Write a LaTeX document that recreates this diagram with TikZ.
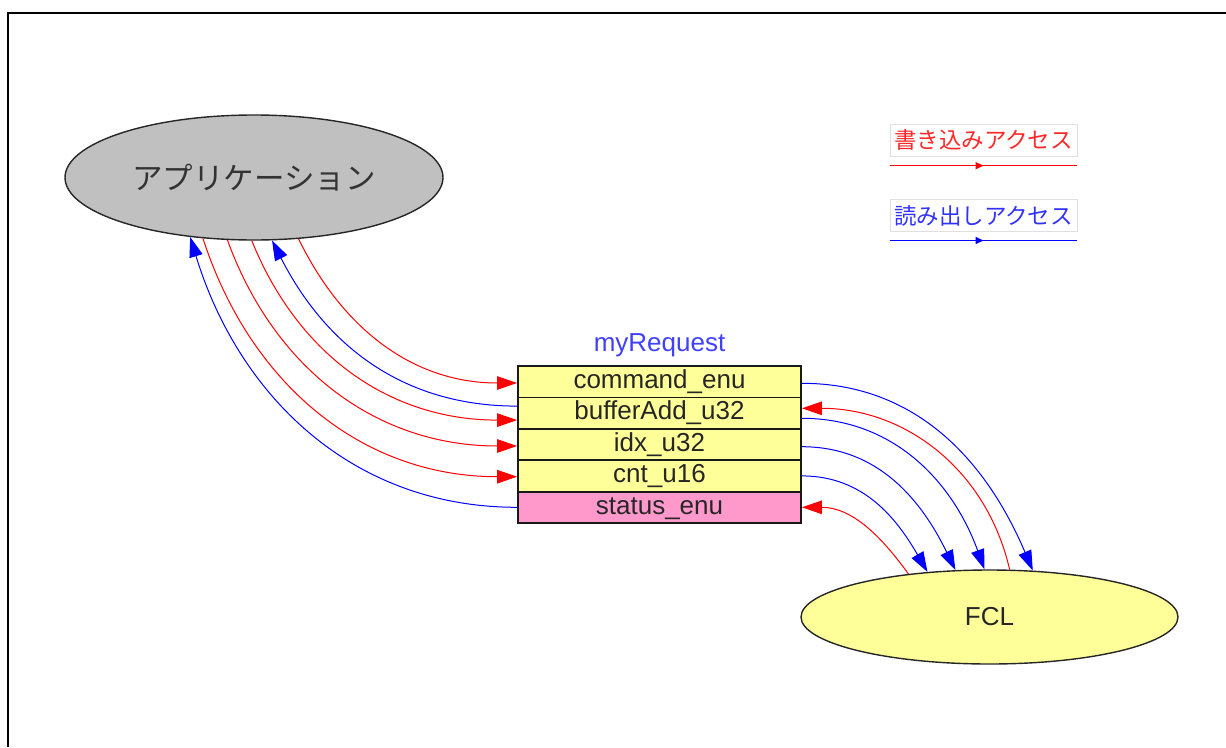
\documentclass[tikz,border=0pt]{standalone}
\usepackage{fontspec}
\setmainfont{Liberation Sans}
\newfontfamily\cjk{Noto Sans CJK JP}
\usetikzlibrary{shapes.geometric,arrows.meta,decorations.markings}
\newcommand\myfs[1]{\fontsize{#1}{#1}\selectfont}
\definecolor{appgray}{RGB}{192,192,192}
\definecolor{fieldyellow}{RGB}{255,255,153}
\definecolor{fieldpink}{RGB}{255,153,204}
\definecolor{txtred}{RGB}{255,40,40}
\definecolor{txtblue}{RGB}{50,50,255}
\definecolor{reqblue}{RGB}{64,64,255}
\begin{document}
\begin{tikzpicture}[x=1pt,y=1pt,
  oval/.style={ellipse, draw=black!85, line width=1.4pt, inner sep=0pt},
  fieldbox/.style={rectangle, draw=black!90, line width=1.8pt, minimum width=283pt,
    minimum height=31.4pt, inner sep=0pt, text height=19pt, text depth=5.5pt,
    font=\myfs{26}, text=black!85, fill=fieldyellow},
  wr/.style={draw=red, line width=1pt, -{Triangle[length=20pt,width=13.5pt]}},
  rd/.style={draw=blue, line width=1pt, -{Triangle[length=20pt,width=13.5pt]}},
  legbox/.style={draw=black!12, line width=1pt, minimum width=187pt, minimum height=32pt,
    inner sep=0pt, font=\cjk\myfs{22.5}},
  legline/.style={line width=1.5pt, postaction={decorate},
    decoration={markings, mark=at position 0.5 with {\arrow{Triangle[length=8pt,width=7pt]}}}}
]
\useasboundingbox (0,0) rectangle (1226,-747);
% frame
\draw[line width=2pt] (7.7,-747) -- (7.7,-12.7) -- (1226,-12.7);

% main nodes
\node[oval, fill=appgray, minimum width=378pt, minimum height=125pt,
  font=\cjk\myfs{30.5}, text=black!80] (app) at (254,-177.5) {アプリケーション};
\node[oval, fill=fieldyellow, minimum width=377pt, minimum height=94pt,
  font=\myfs{26}, text=black!85] (fcl) at (989.5,-617) {FCL};

% structure
\node[fieldbox] (f1) at (659.5,-381.7) {command\_enu};
\node[fieldbox] (f2) at (659.5,-413.1) {bufferAdd\_u32};
\node[fieldbox] (f3) at (659.5,-444.5) {idx\_u32};
\node[fieldbox] (f4) at (659.5,-475.9) {cnt\_u16};
\node[fieldbox, fill=fieldpink] (f5) at (659.5,-507.3) {status\_enu};
\node[font=\myfs{26}, text=reqblue] (req) at (659.5,-345.5) {myRequest};

% legend
\node[legbox, text=txtred] (lw) at (983.5,-140) {書き込みアクセス};
\node[legbox, text=txtblue] (lr) at (983.5,-215.5) {読み出しアクセス};
\coordinate (lw1) at (890,-165.7);
\coordinate (lw2) at (1077,-165.7);
\coordinate (lr1) at (890,-240.5);
\coordinate (lr2) at (1077,-240.5);
\draw[legline, red] (lw1) -- (lw2);
\draw[legline, blue] (lr1) -- (lr2);

% left connectors
\draw[wr] (app.-54) to[out=-64,in=180] ([yshift=-1.3pt]f1.west);
\draw[rd] ([yshift=7pt]f2.west) to[out=180,in=-63] (app.-74);
\draw[wr] (app.-92.7) to[out=-68,in=180] ([yshift=-7pt]f2.west);
\draw[wr] (app.-113.6) to[out=-70,in=180] ([yshift=-1.5pt]f3.west);
\draw[wr] (app.-130.3) to[out=-72,in=180] ([yshift=-0.8pt]f4.west);
\draw[rd] (f5.west) to[out=180,in=-73] (app.-137.5);

% right connectors
\draw[rd] ([yshift=-1.6pt]f1.east) to[out=0,in=113] (fcl.47.3);
\draw[wr] (fcl.67) to[out=103,in=0] ([yshift=4.8pt]f2.east);
\draw[rd] ([yshift=-5.2pt]f2.east) to[out=0,in=110] (fcl.96.7);
\draw[rd] ([yshift=-2.2pt]f3.east) to[out=0,in=116] (fcl.126.75);
\draw[rd] (f4.east) to[out=0,in=120] (fcl.144);
\draw[wr] (fcl.152.4) to[out=126,in=0] (f5.east);
\end{tikzpicture}
\end{document}
